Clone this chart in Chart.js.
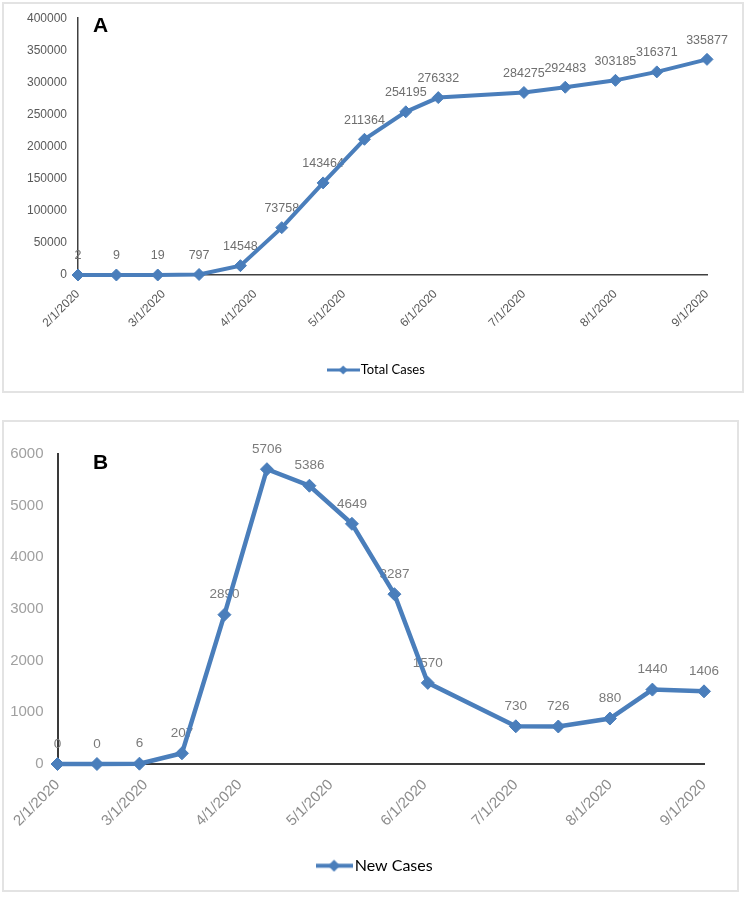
<!DOCTYPE html>
<html><head><meta charset="utf-8">
<script src="https://cdn.jsdelivr.net/npm/chart.js@4.4.1/dist/chart.umd.min.js"></script>
<style>
html,body{margin:0;padding:0;background:#fff;}
#page{position:relative;width:748px;height:899px;overflow:hidden;background:#fff;}
.frame{position:absolute;border:2px solid #e3e3e3;box-sizing:border-box;pointer-events:none;}
canvas{position:absolute;left:0;}
.tag{position:absolute;font:bold 21px "Liberation Sans",Arial,sans-serif;line-height:21px;color:#000;}
</style></head><body>
<div id="page">
 <div class="frame" style="left:2px;top:2px;width:742px;height:391px"></div>
 <div class="frame" style="left:2px;top:420px;width:737px;height:472px"></div>
 <canvas id="cA" width="748" height="392" style="top:0;width:748px;height:392px"></canvas>
 <canvas id="cB" width="748" height="499" style="top:400px;width:748px;height:499px"></canvas>
 <div class="tag" style="left:93px;top:14px">A</div>
 <div class="tag" style="left:93px;top:451px">B</div>
</div>
<script>
// ---- data ----
const dates = ['2/1/2020','2/14/2020','2/28/2020','3/13/2020','3/27/2020','4/10/2020','4/24/2020','5/8/2020','5/22/2020','6/2/2020','7/1/2020','7/15/2020','8/1/2020','8/15/2020','9/1/2020'];
const totalCases = [2, 9, 19, 797, 14548, 73758, 143464, 211364, 254195, 276332, 284275, 292483, 303185, 316371, 335877];
const newCases = [0, 0, 6, 207, 2890, 5706, 5386, 4649, 3287, 1570, 730, 726, 880, 1440, 1406];
const monthTicks = ['2/1/2020','3/1/2020','4/1/2020','5/1/2020','6/1/2020','7/1/2020','8/1/2020','9/1/2020'];
const yTicksA = [0, 50000, 100000, 150000, 200000, 250000, 300000, 350000, 400000];
const yTicksB = [0, 1000, 2000, 3000, 4000, 5000, 6000];
const seriesNameA = 'Total Cases';
const seriesNameB = 'New Cases';

function dayNum(s){ const p = s.split('/').map(Number); return (Date.UTC(p[2], p[0]-1, p[1]) - Date.UTC(2020, 1, 1)) / 86400000; }
const xDays = dates.map(dayNum);
const tickDays = monthTicks.map(dayNum);

const BLUE = '#4a7ebb';
const SANS = '"Liberation Sans", Arial, Helvetica, sans-serif';
const LEG = 'Lato, "Liberation Sans", sans-serif';
Chart.defaults.font.family = SANS;

function legendIcon(w, h, lw, r){
  const c = document.createElement('canvas'); c.width = w; c.height = h;
  const g = c.getContext('2d');
  g.strokeStyle = BLUE; g.lineWidth = lw;
  g.beginPath(); g.moveTo(0, h/2); g.lineTo(w, h/2); g.stroke();
  g.fillStyle = BLUE; g.beginPath();
  g.moveTo(w/2, h/2 - r); g.lineTo(w/2 + r, h/2); g.lineTo(w/2, h/2 + r); g.lineTo(w/2 - r, h/2); g.closePath(); g.fill();
  return c;
}

const pointLabels = {
  id: 'pointLabels',
  beforeDatasetsDraw(chart, args, opts){
    const ctx = chart.ctx;
    const meta = chart.getDatasetMeta(0);
    const ds = chart.data.datasets[0].data;
    ctx.save();
    ctx.font = opts.font; ctx.fillStyle = opts.color;
    ctx.textAlign = 'center'; ctx.textBaseline = 'middle';
    meta.data.forEach((el, i) => { ctx.fillText(String(ds[i].y), el.x, el.y - opts.offset); });
    ctx.restore();
  }
};
// centre the legend on the whole canvas width (with a small shift)
const legendCentre = {
  id: 'legendCentre',
  afterLayout(chart, args, opts){
    if (chart.legend) { const s = opts.shift || 0; chart.legend.left = s; chart.legend.right = chart.width + s; }
  }
};

function makeChart(id, cfg){
  return new Chart(document.getElementById(id), {
    type: 'line',
    data: { datasets: [{
      label: cfg.name,
      data: xDays.map((d, i) => ({ x: d, y: cfg.values[i] })),
      borderColor: BLUE, backgroundColor: BLUE,
      borderWidth: cfg.lineWidth, pointStyle: 'rectRot', pointRadius: cfg.pointR,
      pointBorderWidth: 1, pointBackgroundColor: BLUE, pointBorderColor: BLUE,
      tension: 0, clip: false
    }]},
    options: {
      responsive: false, maintainAspectRatio: false, animation: false,
      layout: { padding: cfg.padding },
      plugins: {
        tooltip: { enabled: false },
        legend: {
          position: 'bottom', align: 'center',
          labels: {
            usePointStyle: true, pointStyleWidth: cfg.boxW, padding: 10,
            color: '#000', font: { family: LEG, size: cfg.legSize },
            generateLabels(chart){
              const items = Chart.defaults.plugins.legend.labels.generateLabels(chart);
              items.forEach(it => { it.pointStyle = cfg.icon; it.fontColor = '#000'; });
              return items;
            }
          }
        },
        legendCentre: { shift: cfg.legShift },
        pointLabels: { font: cfg.labelFont, color: cfg.labelColor, offset: cfg.labelOffset }
      },
      scales: {
        x: {
          type: 'linear', min: tickDays[0], max: tickDays[tickDays.length-1],
          grid: { display: true, drawOnChartArea: false, drawTicks: false },
          border: { display: true, color: cfg.axisColor, width: cfg.axisW },
          afterBuildTicks: s => { s.ticks = tickDays.map(v => ({ value: v })); },
          afterFit: s => { s.height = cfg.xH; },
          ticks: {
            autoSkip: false, minRotation: 45, maxRotation: 45, padding: cfg.xPad,
            color: cfg.xColor, font: { size: cfg.xSize },
            callback: (v) => monthTicks[tickDays.indexOf(v)]
          }
        },
        y: {
          type: 'linear', min: cfg.yTicks[0], max: cfg.yTicks[cfg.yTicks.length-1],
          grid: { display: true, drawOnChartArea: false, drawTicks: false },
          border: { display: true, color: cfg.axisColor, width: cfg.axisW },
          afterBuildTicks: s => { s.ticks = cfg.yTicks.map(v => ({ value: v })); },
          afterFit: s => { s.width = cfg.yW; },
          ticks: { padding: cfg.yPad, color: cfg.yColor, font: { size: cfg.ySize }, callback: v => String(v) }
        }
      }
    },
    plugins: [pointLabels, legendCentre]
  });
}

makeChart('cA', {
  name: seriesNameA, values: totalCases, yTicks: yTicksA,
  lineWidth: 4, pointR: 6,
  padding: { left: 0, right: 41, top: 18, bottom: 5.5 },
  yW: 78, xH: 78.5, xPad: 12, yPad: 11,
  xColor: '#595959', xSize: 12, yColor: '#595959', ySize: 12,
  axisColor: '#404040', axisW: 1.5,
  boxW: 22, legSize: 13, legShift: 4.5, icon: legendIcon(33, 10, 3, 4.5),
  labelFont: '12.5px ' + SANS, labelColor: '#6f6f6f', labelOffset: 19
});

makeChart('cB', {
  name: seriesNameB, values: newCases, yTicks: yTicksB,
  lineWidth: 4.5, pointR: 6.5,
  padding: { left: 0, right: 44, top: 54, bottom: 15.3 },
  yW: 57.5, xH: 83.7, xPad: 12, yPad: 14,
  xColor: '#8d8d8d', xSize: 15, yColor: '#a0a0a0', ySize: 15,
  axisColor: '#3a3a3a', axisW: 2,
  boxW: 25.4, legSize: 16, legShift: 3, icon: legendIcon(37, 13, 4, 6),
  labelFont: '13.5px ' + SANS, labelColor: '#7b7b7b', labelOffset: 20
});
</script>
</body></html>
